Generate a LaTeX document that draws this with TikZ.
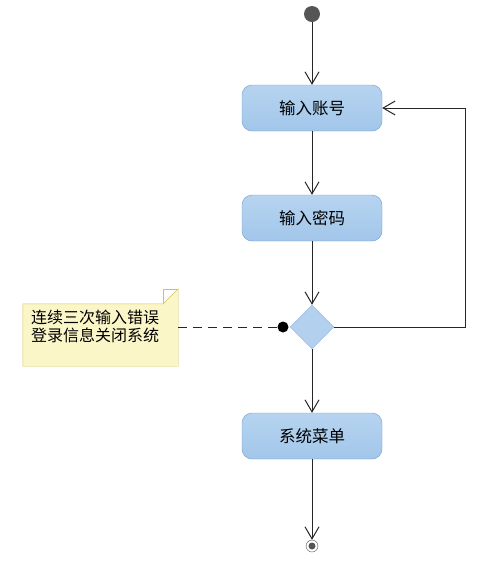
\documentclass[tikz,border=0pt]{standalone}
\usepackage{fontspec}
\setmainfont{Noto Sans CJK SC}
\usetikzlibrary{arrows.meta,shapes.geometric}
\definecolor{acttop}{HTML}{B6D4F0}
\definecolor{actbot}{HTML}{A2C6EA}
\definecolor{actline}{HTML}{6F9DD2}
\definecolor{decfill}{HTML}{B3D1EE}
\definecolor{decline}{HTML}{8FB6E1}
\definecolor{notefill}{HTML}{FBF6C8}
\definecolor{noteline}{HTML}{D5C157}
\definecolor{startgray}{HTML}{555555}
\tikzset{
  act/.style={draw=actline, top color=acttop, bottom color=actbot, rounded corners=10pt,
    minimum width=140pt, minimum height=46pt, font=\fontsize{16.5}{18}\selectfont},
  flow/.style={draw=black!85, line width=0.8pt, -{Straight Barb[length=12pt,width=14pt,line width=1pt]}},
}
\begin{document}
\begin{tikzpicture}[x=1pt,y=-1pt]
\useasboundingbox (0,0) rectangle (482,566);
% start / end
\node (start) [circle, fill=startgray, inner sep=0, minimum size=16pt] at (312,14) {};
\node (stop) [circle, draw=black!70, fill=white, inner sep=0, minimum size=12pt] at (312,546) {};
\fill[startgray] (stop.center) circle [radius=3.5];
% actions
\node (acc) [act] at (312,108) {输入账号};
\node (pwd) [act] at (312,218) {输入密码};
\node (dec) [diamond, draw=decline, fill=decfill, inner sep=0, minimum width=44pt, minimum height=44pt] at (312,327) {};
\node (menu) [act] at (312,436) {系统菜单};
% note
\node (note) [minimum width=155pt, minimum height=62pt, inner sep=0] at (100.5,335) {};
\filldraw[fill=notefill, draw=noteline] (note.north west) -- ([xshift=-15pt]note.north east)
  -- ([yshift=15pt]note.north east) -- (note.south east) -- (note.south west) -- cycle;
\draw[noteline] ([xshift=-15pt]note.north east) -- ([xshift=-15pt,yshift=15pt]note.north east)
  -- ([yshift=15pt]note.north east);
\node (notetext) [anchor=north west, align=left, inner sep=0, font=\fontsize{16}{18}\selectfont]
  at (31,310) {连续三次输入错误\\登录信息关闭系统};
\node (dot) [circle, fill=black, inner sep=0, minimum size=11pt] at (283,327) {};
\draw[black!85, line width=0.8pt, dash pattern=on 9pt off 6pt] (dot -| note.east) -- (dot);
% flows
\draw[flow] (start) -- (acc);
\draw[flow] (acc) -- (pwd);
\draw[flow] (pwd) -- (dec);
\draw[flow] (dec) -- (menu);
\draw[flow] (menu) -- (stop);
\draw[flow] (dec.east) -- ++(131,0) |- (acc.east);
\end{tikzpicture}
\end{document}
